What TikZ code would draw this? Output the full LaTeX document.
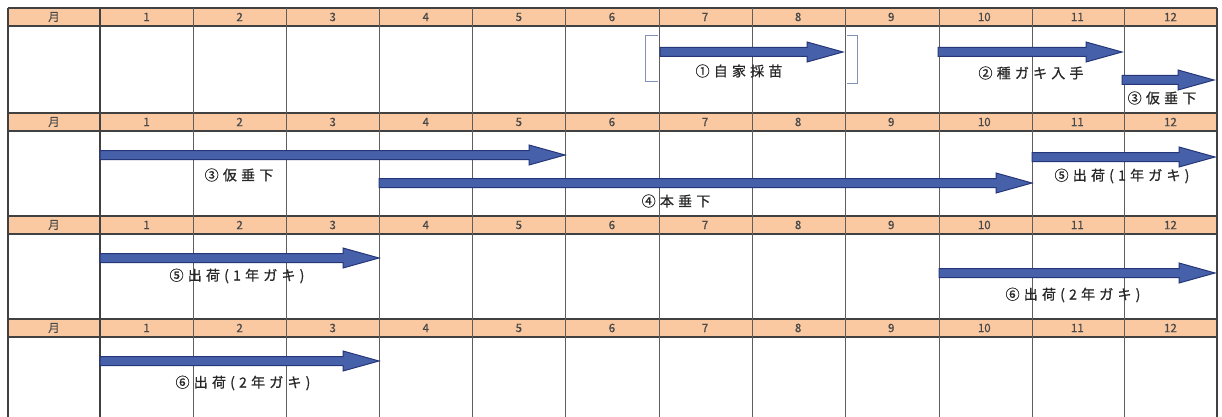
\documentclass[tikz,border=0pt]{standalone}
\usepackage{fontspec}
\setmainfont{Noto Sans CJK JP}
\newfontfamily\lblfont[LetterSpace=30,FakeBold=0.8]{Noto Sans CJK JP}
\newfontfamily\hdrfont[FakeBold=0.6]{Noto Sans CJK JP}
\usetikzlibrary{calc}
\definecolor{hdr}{RGB}{250,201,162}
\definecolor{afill}{RGB}{70,96,170}
\definecolor{aline}{RGB}{38,55,120}
\definecolor{brk}{RGB}{130,145,180}
\definecolor{gridc}{RGB}{65,65,65}
\definecolor{txtc}{RGB}{40,40,40}
\newcommand\garrow[2]{%
  \draw[arrowbody] ($(#1)+(0,-4.5)$) -- ($(#2)+(-36,-4.5)$) -- ($(#2)+(-36,-10)$) -- (#2)
    -- ($(#2)+(-36,10)$) -- ($(#2)+(-36,4.5)$) -- ($(#1)+(0,4.5)$) -- cycle;}
\begin{document}
\begin{tikzpicture}[x=1pt,y=-1pt,
  arrowbody/.style={fill=afill,draw=aline,line width=1pt,line join=miter},
  hdrtext/.style={font=\hdrfont\fontsize{11.5}{12}\selectfont,text=txtc!85,inner sep=0pt},
  lbl/.style={font=\lblfont\fontsize{14}{15}\selectfont,text=txtc,inner sep=0pt},
  gridline/.style={draw=gridc,line width=0.9pt},
  brkline/.style={draw=brk,line width=1pt}]
\useasboundingbox[fill=white] (0,0) rectangle (1222,417);
% header bands
\foreach \t/\b/\r in {8/26/1,113/131/2,216/234/3,319/337/4} {
  \fill[hdr] (8,\t) rectangle (1217,\b);
  \node[hdrtext] (mon\r) at ({54},{(\t+\b)/2}) {月};
  \foreach \m [evaluate=\m as \cx using {100+93.08*(\m-0.5)}] in {1,...,12}
    \node[hdrtext] (h\r-\m) at ({\cx},{(\t+\b)/2}) {\m};
  \draw[gridline,line width=1.2pt] (8,\t) -- (1217,\t);
  \draw[gridline,line width=1.2pt] (8,\b) -- (1217,\b);
}
% vertical lines
\draw[gridline,line width=1.3pt] (8,8) -- (8,417);
\draw[gridline,line width=1.3pt] (100,8) -- (100,417);
\foreach \x in {193,286,379,472,565,659,752,845,939,1032,1124}
  \draw[gridline,draw=gridc!85] (\x,8) -- (\x,417);
\draw[gridline,line width=1.2pt] (1217,8) -- (1217,417);
% brackets
\draw[brkline] (658,36) -- (645,36) -- (645,82) -- (658,82);
\draw[brkline] (847,36) -- (857,36) -- (857,84) -- (847,84);
% arrow end points
\coordinate (a1s) at (660,52);  \coordinate (a1e) at (843,52);
\coordinate (a2s) at (938,52);  \coordinate (a2e) at (1122,52);
\coordinate (a3s) at (1122,80); \coordinate (a3e) at (1214,80);
\coordinate (b3s) at (100,155); \coordinate (b3e) at (565,155);
\coordinate (b4s) at (379,183); \coordinate (b4e) at (1032,183);
\coordinate (b5s) at (1032,157);\coordinate (b5e) at (1215,157);
\coordinate (c5s) at (100,258); \coordinate (c5e) at (379,258);
\coordinate (c6s) at (939,273); \coordinate (c6e) at (1215,273);
\coordinate (d6s) at (100,361); \coordinate (d6e) at (379,361);
\garrow{a1s}{a1e}
\garrow{a2s}{a2e}
\garrow{a3s}{a3e}
\garrow{b3s}{b3e}
\garrow{b4s}{b4e}
\garrow{b5s}{b5e}
\garrow{c5s}{c5e}
\garrow{c6s}{c6e}
\garrow{d6s}{d6e}
% labels
\node[lbl] (l1) at (739,71) {①自家採苗};
\node[lbl] (l2) at (1031,73) {②種ガキ入手};
\node[lbl] (l3) at (1162,98) {③仮垂下};
\node[lbl] (l4) at (239,175) {③仮垂下};
\node[lbl] (l5) at (676,201) {④本垂下};
\node[lbl] (l6) at (1122,176) {⑤出荷(1年ガキ)};
\node[lbl] (l7) at (237,276) {⑤出荷(1年ガキ)};
\node[lbl] (l8) at (1073,295) {⑥出荷(2年ガキ)};
\node[lbl] (l9) at (243,383) {⑥出荷(2年ガキ)};
\end{tikzpicture}
\end{document}
